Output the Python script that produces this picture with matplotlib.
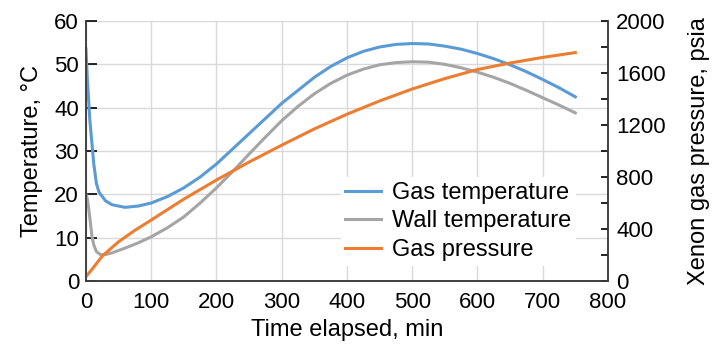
import numpy as np
import matplotlib.pyplot as plt
from matplotlib.ticker import MultipleLocator

plt.rcParams['font.family'] = ['Liberation Sans', 'DejaVu Sans']

# Gas temperature, deg C
t_gas = [0, 2, 4, 6, 9, 12, 16, 20, 30, 40, 60, 80, 100, 125, 150, 175, 200,
         225, 250, 275, 300, 325, 350, 375, 400, 425, 450, 475, 500, 525, 550,
         575, 600, 625, 650, 675, 700, 725, 750]
gas_temp = [53.5, 47, 42, 37, 32, 27, 22.5, 20.5, 18.5, 17.6, 17, 17.3, 18,
            19.5, 21.5, 24, 27, 30.5, 34, 37.5, 41, 44, 47, 49.5, 51.5, 53, 54,
            54.6, 54.8, 54.7, 54.2, 53.5, 52.5, 51.3, 49.9, 48.3, 46.5, 44.6,
            42.5]

# Wall temperature, deg C
t_wall = [0, 2, 4, 6, 9, 12, 16, 22, 30, 40, 60, 80, 100, 125, 150, 175, 200,
          225, 250, 275, 300, 325, 350, 375, 400, 425, 450, 475, 500, 525, 550,
          575, 600, 625, 650, 675, 700, 725, 750]
wall_temp = [20, 19, 17, 14.5, 10.5, 8.3, 6.8, 6.1, 6.1, 6.5, 7.6, 8.8, 10.2,
             12.3, 14.8, 18, 21.5, 25.3, 29.3, 33.2, 37, 40.3, 43.2, 45.6,
             47.5, 48.9, 49.9, 50.4, 50.6, 50.5, 50, 49.2, 48.2, 47, 45.6, 44,
             42.3, 40.6, 38.8]

# Gas pressure, psia
t_pres = [0, 10, 25, 50, 75, 100, 150, 200, 250, 300, 350, 400, 450, 500, 550,
          600, 650, 700, 750]
gas_pres = [33, 95, 192, 302, 390, 469, 630, 777, 915, 1045, 1170, 1283, 1385,
            1477, 1557, 1627, 1677, 1720, 1757]

blue = '#5b9bd5'
gray = '#a5a5a5'
orange = '#ed7d31'

fig = plt.figure(figsize=(7.14, 3.49), dpi=100)
ax = fig.add_axes([0.1204, 0.1948, 0.7311, 0.745])
ax2 = ax.twinx()

l1, = ax.plot(t_gas, gas_temp, color=blue, lw=2.2, label='Gas temperature')
l2, = ax.plot(t_wall, wall_temp, color=gray, lw=2.2, label='Wall temperature')
l3, = ax2.plot(t_pres, gas_pres, color=orange, lw=2.2, label='Gas pressure')

ax.set_xlim(0, 800)
ax.set_ylim(0, 60)
ax2.set_ylim(0, 2000)
ax.xaxis.set_major_locator(MultipleLocator(100))
ax.yaxis.set_major_locator(MultipleLocator(10))
ax2.yaxis.set_major_locator(MultipleLocator(400))
ax2.yaxis.set_minor_locator(MultipleLocator(200))

ax.grid(True, color='#d9d9d9', lw=1)
ax.set_axisbelow(True)
for a in (ax, ax2):
    a.spines['top'].set_visible(False)
    for s in ('left', 'right', 'bottom'):
        a.spines[s].set_color('#404040')
        a.spines[s].set_linewidth(1.2)

ax.tick_params(axis='y', direction='in', length=8, width=1.2, labelsize=16,
               pad=5)
ax.tick_params(axis='x', length=0, labelsize=16, pad=8)
ax2.tick_params(axis='y', which='both', direction='in', length=5, width=1.2,
                labelsize=16, pad=6)

ax.set_xlabel('Time elapsed, min', fontsize=17, labelpad=4)
ax.set_ylabel('Temperature, °C', fontsize=17, labelpad=8)
ax2.set_ylabel('Xenon gas pressure, psia', fontsize=17, labelpad=16)

leg = ax2.legend(handles=[l1, l2, l3], loc='upper left',
                 bbox_to_anchor=(0.465, 0.445), fontsize=17, frameon=True,
                 edgecolor='none', facecolor='white', framealpha=1,
                 handlelength=1.5, handletextpad=0.5, labelspacing=0.28,
                 borderpad=0.2)

fig.savefig('out.png', dpi=100)
